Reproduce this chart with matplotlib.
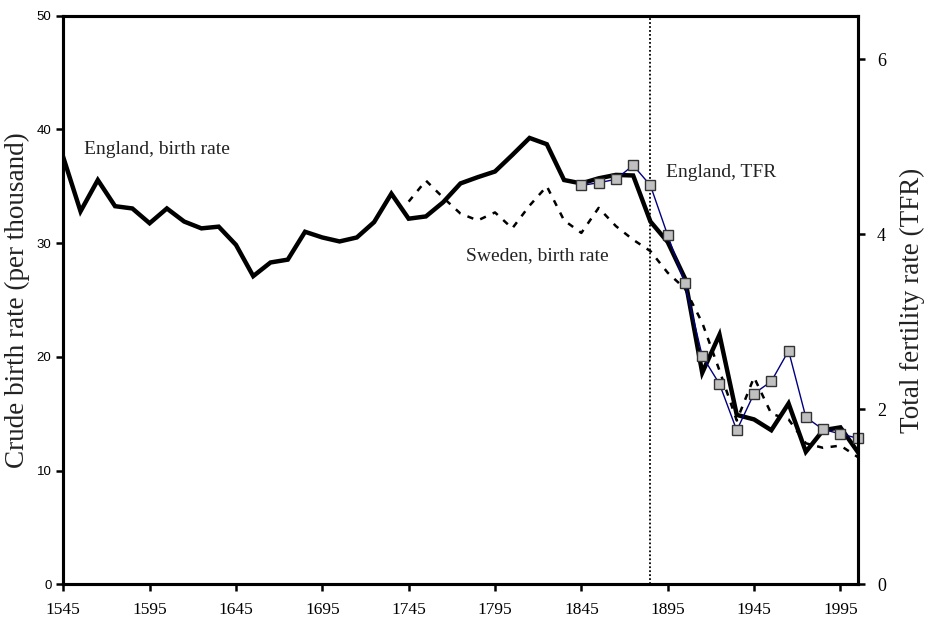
import matplotlib.pyplot as plt

# England crude birth rate, decadal
eng_years = list(range(1545, 2006, 10))
eng_cbr = [37.55, 32.8, 35.55, 33.25, 33.05, 31.75, 33.05, 31.9, 31.3, 31.45,
           29.85, 27.1, 28.3, 28.55, 31.0, 30.5, 30.15, 30.5, 31.85, 34.35,
           32.15, 32.35, 33.6, 35.25, 35.8, 36.3, 37.75, 39.25, 38.7, 35.55,
           35.25, 35.7, 36.0, 35.95, 31.9, 30.1, 26.9, 18.6, 21.95, 14.9,
           14.5, 13.55, 15.9, 11.65, 13.55, 13.8, 11.65]

# Sweden crude birth rate
swe_years = list(range(1745, 2006, 10))
swe_cbr = [33.65, 35.5, 34.0, 32.6, 32.0, 32.7, 31.3, 33.3, 35.0, 32.0,
           30.9, 33.1, 31.5, 30.3, 29.3, 27.4, 26.0, 23.0, 18.8, 14.4,
           18.2, 15.0, 14.5, 12.4, 12.0, 12.2, 11.2]

# England total fertility rate
tfr_years = list(range(1845, 2006, 10))
tfr = [4.56, 4.59, 4.63, 4.79, 4.56, 3.99, 3.44, 2.61, 2.29, 1.76,
       2.18, 2.32, 2.67, 1.91, 1.77, 1.72, 1.67]

serif = ["Liberation Serif", "DejaVu Serif"]

fig = plt.figure(figsize=(9.29, 6.23), dpi=100)
ax = fig.add_axes([0.0681, 0.0621, 0.8551, 0.9127])
ax2 = ax.twinx()

ax.plot(eng_years, eng_cbr, color="black", linewidth=3.2, solid_joinstyle="miter", zorder=3)
ax.plot(swe_years, swe_cbr, color="black", linewidth=1.8, linestyle=(0, (2.5, 3.0)), zorder=2)
ax.axvline(1885, color="black", linewidth=1.3, linestyle=(0, (1, 1.2)), zorder=1)

ax2.plot(tfr_years, tfr, color="#000080", linewidth=1, marker="s", markersize=7.8,
         markerfacecolor="#c0c0c0", markeredgecolor="#333333", markeredgewidth=1, clip_on=False)

ax.set_xlim(1545, 2005)
ax.set_ylim(0, 50)
ax2.set_ylim(0, 6.5)

ax.set_xticks(range(1545, 2000, 50))
ax.set_yticks(range(0, 51, 10))
ax2.set_yticks([0, 2, 4, 6])

for a in (ax, ax2):
    for s in a.spines.values():
        s.set_linewidth(2.2)
ax.tick_params(axis="both", direction="out", length=5, width=1.8)
ax2.tick_params(axis="y", direction="out", length=5, width=1.8, pad=9)

for lab in ax.get_yticklabels():
    lab.set_fontfamily("Liberation Sans")
    lab.set_fontsize(9.5)
for lab in ax.get_xticklabels():
    lab.set_fontfamily(serif)
    lab.set_fontsize(12.5)
for lab in ax2.get_yticklabels():
    lab.set_fontfamily(serif)
    lab.set_fontsize(13)
ax.tick_params(axis="x", pad=8)

ax.set_ylabel("Crude birth rate (per thousand)", family=serif, fontsize=19.5, color="#222222", labelpad=5)
ax2.set_ylabel("Total fertility rate (TFR)", family=serif, fontsize=19.5, color="#222222", labelpad=10)

ax.text(1557, 38.2, "England, birth rate", family=serif, fontsize=14, color="#222222", va="center")
ax.text(1778, 28.9, "Sweden, birth rate", family=serif, fontsize=14, color="#222222", va="center")
ax.text(1894, 36.2, "England, TFR", family=serif, fontsize=14, color="#222222", va="center")

fig.savefig("out.png", dpi=100)
